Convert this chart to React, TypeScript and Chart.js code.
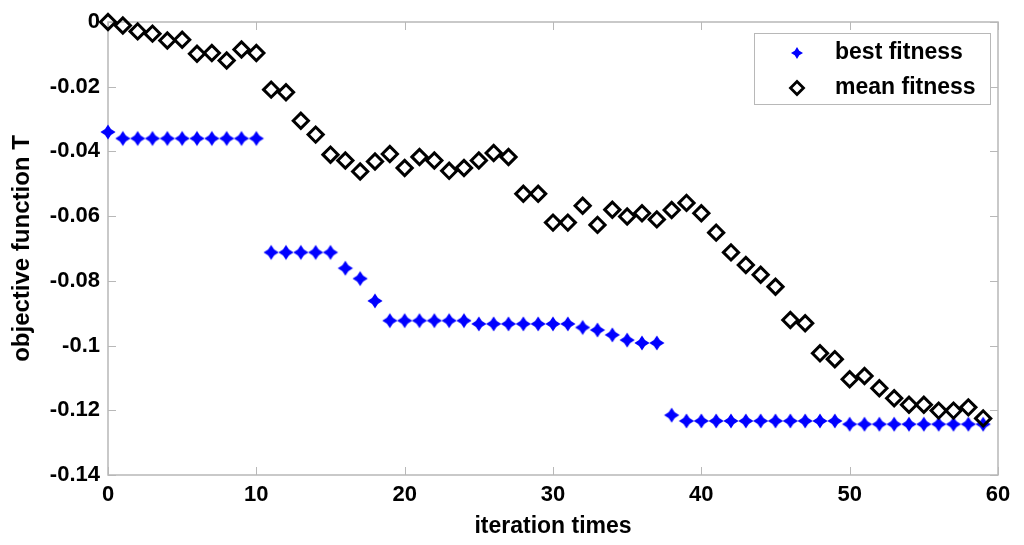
import React, { useEffect, useRef } from "react";
import { Chart, registerables } from "chart.js";

Chart.register(...registerables);

const iterations = [
  0, 1, 2, 3, 4, 5, 6, 7, 8, 9, 10, 11, 12, 13, 14, 15, 16, 17, 18, 19,
  20, 21, 22, 23, 24, 25, 26, 27, 28, 29, 30, 31, 32, 33, 34, 35, 36, 37, 38, 39,
  40, 41, 42, 43, 44, 45, 46, 47, 48, 49, 50, 51, 52, 53, 54, 55, 56, 57, 58, 59,
];

const bestFitness = [
  -0.034, -0.036, -0.036, -0.036, -0.036, -0.036, -0.036, -0.036, -0.036, -0.036,
  -0.036, -0.0712, -0.0712, -0.0712, -0.0712, -0.0712, -0.0761, -0.0793, -0.0862, -0.0923,
  -0.0923, -0.0923, -0.0923, -0.0923, -0.0923, -0.0933, -0.0933, -0.0933, -0.0933, -0.0933,
  -0.0933, -0.0933, -0.0944, -0.0952, -0.0967, -0.0983, -0.0992, -0.0992, -0.1215, -0.1233,
  -0.1233, -0.1233, -0.1233, -0.1233, -0.1233, -0.1233, -0.1233, -0.1233, -0.1233, -0.1233,
  -0.1243, -0.1243, -0.1243, -0.1243, -0.1243, -0.1243, -0.1243, -0.1243, -0.1243, -0.1243,
];

const meanFitness = [
  0.0, -0.0011, -0.0029, -0.0036, -0.0057, -0.0055, -0.0098, -0.0096, -0.0119, -0.0085,
  -0.0096, -0.0209, -0.0217, -0.0305, -0.0348, -0.041, -0.0428, -0.0462, -0.0431, -0.0408,
  -0.0451, -0.0417, -0.0428, -0.046, -0.0451, -0.0428, -0.0405, -0.0417, -0.0531, -0.0531,
  -0.062, -0.062, -0.0568, -0.0627, -0.058, -0.0601, -0.0591, -0.061, -0.0581, -0.0559,
  -0.0591, -0.0651, -0.0712, -0.0751, -0.0781, -0.0818, -0.0921, -0.0931, -0.1024, -0.1042,
  -0.1104, -0.1094, -0.1132, -0.1163, -0.1183, -0.1183, -0.1201, -0.1201, -0.1191, -0.1225,
];

const xTicks = [0, 10, 20, 30, 40, 50, 60];
const yTicks = [0, -0.02, -0.04, -0.06, -0.08, -0.1, -0.12, -0.14];
const seriesNames = ["best fitness", "mean fitness"];
const xTitle = "iteration times";
const yTitle = "objective function T";

const FONT = "'Liberation Sans', Arial, Helvetica, sans-serif";
const FRAME = "#b8b8b8";

function makeStar(color: string, outer: number, inner: number): HTMLCanvasElement {
  const size = Math.ceil(outer * 2 + 2);
  const c = document.createElement("canvas");
  c.width = size;
  c.height = size;
  const ctx = c.getContext("2d")!;
  const cx = size / 2;
  ctx.fillStyle = color;
  ctx.beginPath();
  for (let i = 0; i < 8; i++) {
    const a = (i * Math.PI) / 4 - Math.PI / 2;
    const r = i % 2 === 0 ? outer : inner;
    const px = cx + r * Math.cos(a);
    const py = cx + r * Math.sin(a);
    if (i === 0) ctx.moveTo(px, py);
    else ctx.lineTo(px, py);
  }
  ctx.closePath();
  ctx.fill();
  return c;
}

export default function App() {
  const ref = useRef<HTMLCanvasElement | null>(null);

  useEffect(() => {
    const canvas = ref.current;
    if (!canvas) return;
    const star = makeStar("#0000ff", 7.6, 4.2);
    const legendStar = makeStar("#0000ff", 6, 3.2);

    const framePlugin = {
      id: "frameTicks",
      beforeDatasetsDraw(chart: any) {
        const { ctx, chartArea } = chart;
        const { left, right, top, bottom } = chartArea;
        const xs = chart.scales.x;
        const ys = chart.scales.y;
        ctx.save();
        ctx.strokeStyle = FRAME;
        ctx.lineWidth = 1.5;
        ctx.beginPath();
        ctx.rect(left, top, right - left, bottom - top);
        ctx.stroke();
        ctx.lineWidth = 1;
        ctx.beginPath();
        const tl = 8;
        xTicks.forEach((v) => {
          const px = Math.round(xs.getPixelForValue(v)) + 0.5;
          ctx.moveTo(px, bottom);
          ctx.lineTo(px, bottom - tl);
          ctx.moveTo(px, top);
          ctx.lineTo(px, top + tl);
        });
        yTicks.forEach((v) => {
          const py = Math.round(ys.getPixelForValue(v)) + 0.5;
          ctx.moveTo(left, py);
          ctx.lineTo(left + tl, py);
          ctx.moveTo(right, py);
          ctx.lineTo(right - tl, py);
        });
        ctx.stroke();
        ctx.restore();
      },
    };

    const legendPlugin = {
      id: "boxLegend",
      afterDatasetsDraw(chart: any) {
        const { ctx, chartArea } = chart;
        const w = 236;
        const h = 71;
        const bx = chartArea.right - 8 - w;
        const by = chartArea.top + 11;
        ctx.save();
        ctx.fillStyle = "#ffffff";
        ctx.fillRect(bx, by, w, h);
        ctx.strokeStyle = FRAME;
        ctx.lineWidth = 1;
        ctx.strokeRect(bx + 0.5, by + 0.5, w, h);
        const mx = bx + 43;
        const tx = bx + 81;
        const rows = [by + 20, by + 55];
        ctx.drawImage(legendStar, mx - legendStar.width / 2, rows[0] - legendStar.height / 2);
        ctx.strokeStyle = "#000000";
        ctx.lineWidth = 2.8;
        ctx.beginPath();
        const r = 6.5;
        ctx.moveTo(mx - r, rows[1]);
        ctx.lineTo(mx, rows[1] - r);
        ctx.lineTo(mx + r, rows[1]);
        ctx.lineTo(mx, rows[1] + r);
        ctx.closePath();
        ctx.stroke();
        ctx.fillStyle = "#000000";
        ctx.font = `bold 23px ${FONT}`;
        ctx.textAlign = "left";
        ctx.textBaseline = "middle";
        ctx.fillText(seriesNames[0], tx, rows[0]);
        ctx.fillText(seriesNames[1], tx, rows[1]);
        ctx.restore();
      },
    };

    const whiteBg = {
      id: "whiteBg",
      beforeDraw(chart: any) {
        const { ctx, width, height } = chart;
        ctx.save();
        ctx.fillStyle = "#ffffff";
        ctx.fillRect(0, 0, width, height);
        ctx.restore();
      },
    };

    const chart = new Chart(canvas, {
      type: "scatter",
      data: {
        datasets: [
          {
            label: seriesNames[0],
            data: iterations.map((x, i) => ({ x, y: bestFitness[i] })),
            pointStyle: star as any,
            pointRadius: 8,
            showLine: false,
            clip: false as any,
            order: 1,
          },
          {
            label: seriesNames[1],
            data: iterations.map((x, i) => ({ x, y: meanFitness[i] })),
            pointStyle: "rectRot",
            pointRadius: 7.6,
            pointBorderWidth: 3,
            pointBorderColor: "#000000",
            pointBackgroundColor: "rgba(0,0,0,0)",
            showLine: false,
            clip: false as any,
            order: 0,
          },
        ],
      },
      options: {
        animation: false,
        responsive: false,
        devicePixelRatio: 1,
        layout: { padding: { top: 22, right: 26, left: 0, bottom: 0 } },
        plugins: {
          legend: { display: false },
          tooltip: { enabled: false },
        },
        scales: {
          x: {
            type: "linear",
            min: 0,
            max: 60,
            afterBuildTicks: (s: any) => {
              s.ticks = xTicks.map((v) => ({ value: v }));
            },
            afterFit: (s: any) => {
              s.height = 70;
            },
            grid: { display: false, drawTicks: false },
            border: { display: false },
            ticks: {
              padding: 7,
              color: "#000000",
              font: { family: FONT, size: 22, weight: "bold" },
              callback: (v: any) => String(v),
            },
            title: {
              display: true,
              text: xTitle,
              color: "#000000",
              padding: { top: 0, bottom: 5 },
              font: { family: FONT, size: 23, weight: "bold" },
            },
          },
          y: {
            type: "linear",
            min: -0.14,
            max: 0,
            afterBuildTicks: (s: any) => {
              s.ticks = yTicks.map((v) => ({ value: v }));
            },
            afterFit: (s: any) => {
              s.width = 108;
            },
            grid: { display: false, drawTicks: false },
            border: { display: false },
            ticks: {
              padding: 8,
              color: "#000000",
              font: { family: FONT, size: 22, weight: "bold" },
              callback: (v: any) => String(Number(Number(v).toFixed(2))),
            },
            title: {
              display: true,
              text: yTitle,
              color: "#000000",
              padding: { top: 8, bottom: 0 },
              font: { family: FONT, size: 24, weight: "bold" },
            },
          },
        },
      },
      plugins: [whiteBg, framePlugin, legendPlugin],
    });

    return () => {
      chart.destroy();
    };
  }, []);

  return (
    <div style={{ position: "absolute", left: 0, top: 0, width: 1024, height: 545, background: "#ffffff" }}>
      <canvas ref={ref} width={1024} height={545} style={{ display: "block", width: 1024, height: 545 }} />
    </div>
  );
}
